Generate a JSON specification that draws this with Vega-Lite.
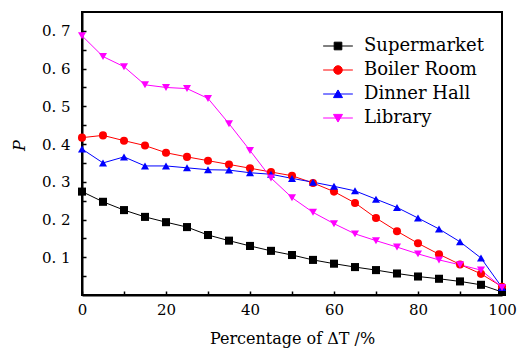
{
  "$schema": "https://vega.github.io/schema/vega-lite/v6.json",
  "width": 420,
  "height": 283,
  "autosize": "none",
  "padding": {"left": 82, "top": 12, "right": 15, "bottom": 53},
  "background": "white",
  "config": {
    "font": "DejaVu Serif",
    "view": {"stroke": "black", "strokeWidth": 2},
    "axis": {
      "grid": false,
      "domainColor": "black",
      "domainWidth": 2,
      "labelColor": "black",
      "labelFont": "DejaVu Serif",
      "labelFontSize": 15,
      "titleColor": "black",
      "titleFont": "DejaVu Serif",
      "titleFontWeight": "normal",
      "titleFontSize": 16
    }
  },
  "data": {
    "values": [
      {"x": 0, "series": "Supermarket", "p": 0.274},
      {"x": 5, "series": "Supermarket", "p": 0.247},
      {"x": 10, "series": "Supermarket", "p": 0.225},
      {"x": 15, "series": "Supermarket", "p": 0.207},
      {"x": 20, "series": "Supermarket", "p": 0.193},
      {"x": 25, "series": "Supermarket", "p": 0.18},
      {"x": 30, "series": "Supermarket", "p": 0.159},
      {"x": 35, "series": "Supermarket", "p": 0.144},
      {"x": 40, "series": "Supermarket", "p": 0.13},
      {"x": 45, "series": "Supermarket", "p": 0.117},
      {"x": 50, "series": "Supermarket", "p": 0.106},
      {"x": 55, "series": "Supermarket", "p": 0.093},
      {"x": 60, "series": "Supermarket", "p": 0.083},
      {"x": 65, "series": "Supermarket", "p": 0.074},
      {"x": 70, "series": "Supermarket", "p": 0.066},
      {"x": 75, "series": "Supermarket", "p": 0.057},
      {"x": 80, "series": "Supermarket", "p": 0.049},
      {"x": 85, "series": "Supermarket", "p": 0.043},
      {"x": 90, "series": "Supermarket", "p": 0.036},
      {"x": 95, "series": "Supermarket", "p": 0.027},
      {"x": 100, "series": "Supermarket", "p": 0.008},
      {"x": 0, "series": "Boiler Room", "p": 0.417},
      {"x": 5, "series": "Boiler Room", "p": 0.423},
      {"x": 10, "series": "Boiler Room", "p": 0.409},
      {"x": 15, "series": "Boiler Room", "p": 0.396},
      {"x": 20, "series": "Boiler Room", "p": 0.377},
      {"x": 25, "series": "Boiler Room", "p": 0.366},
      {"x": 30, "series": "Boiler Room", "p": 0.356},
      {"x": 35, "series": "Boiler Room", "p": 0.346},
      {"x": 40, "series": "Boiler Room", "p": 0.336},
      {"x": 45, "series": "Boiler Room", "p": 0.326},
      {"x": 50, "series": "Boiler Room", "p": 0.316},
      {"x": 55, "series": "Boiler Room", "p": 0.297},
      {"x": 60, "series": "Boiler Room", "p": 0.274},
      {"x": 65, "series": "Boiler Room", "p": 0.244},
      {"x": 70, "series": "Boiler Room", "p": 0.204},
      {"x": 75, "series": "Boiler Room", "p": 0.169},
      {"x": 80, "series": "Boiler Room", "p": 0.137},
      {"x": 85, "series": "Boiler Room", "p": 0.108},
      {"x": 90, "series": "Boiler Room", "p": 0.081},
      {"x": 95, "series": "Boiler Room", "p": 0.056},
      {"x": 100, "series": "Boiler Room", "p": 0.022},
      {"x": 0, "series": "Dinner Hall", "p": 0.387},
      {"x": 5, "series": "Dinner Hall", "p": 0.35},
      {"x": 10, "series": "Dinner Hall", "p": 0.366},
      {"x": 15, "series": "Dinner Hall", "p": 0.342},
      {"x": 20, "series": "Dinner Hall", "p": 0.342},
      {"x": 25, "series": "Dinner Hall", "p": 0.337},
      {"x": 30, "series": "Dinner Hall", "p": 0.332},
      {"x": 35, "series": "Dinner Hall", "p": 0.331},
      {"x": 40, "series": "Dinner Hall", "p": 0.324},
      {"x": 45, "series": "Dinner Hall", "p": 0.32},
      {"x": 50, "series": "Dinner Hall", "p": 0.309},
      {"x": 55, "series": "Dinner Hall", "p": 0.299},
      {"x": 60, "series": "Dinner Hall", "p": 0.288},
      {"x": 65, "series": "Dinner Hall", "p": 0.276},
      {"x": 70, "series": "Dinner Hall", "p": 0.254},
      {"x": 75, "series": "Dinner Hall", "p": 0.232},
      {"x": 80, "series": "Dinner Hall", "p": 0.204},
      {"x": 85, "series": "Dinner Hall", "p": 0.175},
      {"x": 90, "series": "Dinner Hall", "p": 0.141},
      {"x": 95, "series": "Dinner Hall", "p": 0.098},
      {"x": 100, "series": "Dinner Hall", "p": 0.02},
      {"x": 0, "series": "Library", "p": 0.687},
      {"x": 5, "series": "Library", "p": 0.632},
      {"x": 10, "series": "Library", "p": 0.605},
      {"x": 15, "series": "Library", "p": 0.557},
      {"x": 20, "series": "Library", "p": 0.55},
      {"x": 25, "series": "Library", "p": 0.547},
      {"x": 30, "series": "Library", "p": 0.521},
      {"x": 35, "series": "Library", "p": 0.454},
      {"x": 40, "series": "Library", "p": 0.383},
      {"x": 45, "series": "Library", "p": 0.31},
      {"x": 50, "series": "Library", "p": 0.258},
      {"x": 55, "series": "Library", "p": 0.219},
      {"x": 60, "series": "Library", "p": 0.189},
      {"x": 65, "series": "Library", "p": 0.162},
      {"x": 70, "series": "Library", "p": 0.144},
      {"x": 75, "series": "Library", "p": 0.127},
      {"x": 80, "series": "Library", "p": 0.109},
      {"x": 85, "series": "Library", "p": 0.093},
      {"x": 90, "series": "Library", "p": 0.08},
      {"x": 95, "series": "Library", "p": 0.066},
      {"x": 100, "series": "Library", "p": 0.02}
    ]
  },
  "layer": [
    {
      "mark": {"type": "line", "strokeWidth": 1},
      "encoding": {
        "x": {
          "field": "x", "type": "quantitative",
          "scale": {"domain": [0, 100], "nice": false, "zero": false},
          "axis": {
            "values": [0, 20, 40, 60, 80, 100],
            "ticks": true,
            "tickColor": "black",
            "tickWidth": 1.5,
            "tickSize": -4,
            "title": "Percentage of ΔT /%",
            "labelFlush": false,
            "labelPadding": 11,
            "titleY": 48,
            "titleBaseline": "alphabetic"
          }
        },
        "y": {
          "field": "p", "type": "quantitative",
          "scale": {"domain": [0, 0.75], "nice": false},
          "axis": {
            "values": [0.1, 0.2, 0.3, 0.4, 0.5, 0.6, 0.7],
            "ticks": true,
            "tickColor": "black",
            "tickWidth": 1.5,
            "tickSize": -4,
            "format": ".1f",
            "labelExpr": "replace(datum.label, '.', '. ')",
            "labelFlush": false,
            "labelPadding": 16,
            "title": "P",
            "titleFontStyle": "italic",
            "titleAngle": -90,
            "titleX": -63,
            "titleY": 133,
            "titleAlign": "center",
            "titleBaseline": "middle"
          }
        },
        "color": {
          "field": "series", "type": "nominal",
          "scale": {"domain": ["Supermarket", "Boiler Room", "Dinner Hall", "Library"], "range": ["#000000", "#ff0000", "#0000ff", "#ff00ff"]},
          "legend": {
            "title": null,
            "orient": "none",
            "legendX": 247,
            "legendY": 25,
            "padding": 0,
            "labelFont": "DejaVu Serif",
            "labelFontSize": 18,
            "labelColor": "black",
            "labelOffset": 17,
            "rowPadding": 6,
            "symbolSize": 81,
            "encode": {
              "symbols": {
                "update": {
                  "shape": {"signal": "datum.value === 'Supermarket' ? 'M-3.3,0H3.3M-0.85,-0.85H0.85V0.85H-0.85Z' : datum.value === 'Boiler Room' ? 'M-3.3,0H3.3M-0.95,0A0.95,0.95 0 1,0 0.95,0A0.95,0.95 0 1,0 -0.95,0Z' : datum.value === 'Dinner Hall' ? 'M-3.3,0H3.3M0,-0.9L1,0.8H-1Z' : 'M-3.3,0H3.3M0,0.9L1,-0.8H-1Z'"},
                  "fill": {"scale": "color", "field": "value"},
                  "stroke": {"scale": "color", "field": "value"},
                  "strokeWidth": {"value": 1},
                  "opacity": {"value": 1}
                }
              }
            }
          }
        }
      }
    },
    {
      "mark": {"type": "point", "filled": true, "opacity": 1, "size": 65},
      "encoding": {
        "x": {"field": "x", "type": "quantitative", "axis": null},
        "y": {"field": "p", "type": "quantitative", "axis": null},
        "color": {"field": "series", "type": "nominal"},
        "shape": {
          "field": "series", "type": "nominal",
          "scale": {"domain": ["Library", "Dinner Hall", "Boiler Room", "Supermarket"], "range": ["triangle-down", "triangle-up", "circle", "square"]},
          "legend": null
        }
      }
    },
    {
      "mark": {"type": "point", "opacity": 0},
      "encoding": {
        "x": {"field": "x", "type": "quantitative", "axis": {"orient": "bottom", "values": [10, 30, 50, 70, 90], "labels": false, "domain": false, "title": null, "ticks": true, "tickColor": "black", "tickWidth": 1.5, "tickSize": 4, "offset": -4}},
        "y": {"field": "p", "type": "quantitative", "axis": {"orient": "left", "values": [0.05, 0.15, 0.25, 0.35, 0.45, 0.55, 0.65], "labels": false, "domain": false, "title": null, "ticks": true, "tickColor": "black", "tickWidth": 1.5, "tickSize": 4, "offset": -4}}
      }
    }
  ],
  "resolve": {"axis": {"x": "independent", "y": "independent"}}
}
